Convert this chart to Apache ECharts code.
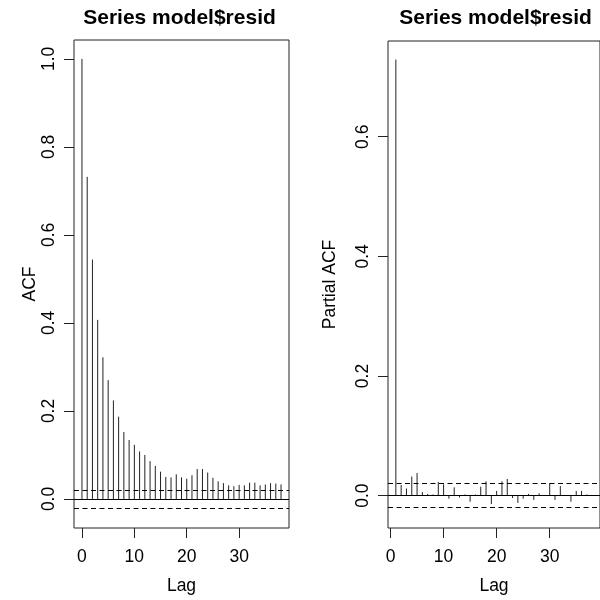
<!DOCTYPE html>
<html>
<head>
<meta charset="utf-8">
<script src="https://cdn.jsdelivr.net/npm/echarts@6/dist/echarts.min.js"></script>
<style>html,body{margin:0;padding:0;background:#fff;}#c{width:600px;height:600px;}</style>
</head>
<body>
<div id="c"></div>
<script>
const titleText = 'Series model$resid';
const acfLags = [0,1,2,3,4,5,6,7,8,9,10,11,12,13,14,15,16,17,18,19,20,21,22,23,24,25,26,27,28,29,30,31,32,33,34,35,36,37,38];
const acfValues = [1.000,0.732,0.544,0.407,0.322,0.270,0.224,0.187,0.152,0.134,0.123,0.108,0.100,0.086,0.075,0.062,0.050,0.049,0.056,0.049,0.046,0.054,0.068,0.068,0.060,0.048,0.040,0.036,0.031,0.029,0.032,0.031,0.037,0.037,0.031,0.033,0.036,0.035,0.033];
const pacfLags = [1,2,3,4,5,6,7,8,9,10,11,12,13,14,15,16,17,18,19,20,21,22,23,24,25,26,27,28,29,30,31,32,33,34,35,36,37,38];
const pacfValues = [0.729,0.018,0.012,0.032,0.038,0.006,0.003,0.002,0.023,0.019,-0.005,0.014,-0.003,0.002,-0.010,0.002,0.015,0.024,-0.014,0.008,0.024,0.028,-0.004,-0.012,-0.005,0.003,-0.007,0.004,0.000,0.021,-0.007,0.016,0.001,-0.010,0.008,0.008,0.002,0.000];
const confLimit = 0.022;
const xTicks = [0,10,20,30];
const acfYTicks = [0,0.2,0.4,0.6,0.8,1.0];
const pacfYTicks = [0,0.2,0.4,0.6];

const FONT = '"Liberation Sans", Arial, Helvetica, sans-serif';
const FS = 17.5;

function zip(a,b){return a.map((v,i)=>[v,b[i]]);}

function renderStem(params, api){
  const x = api.value(0), y = api.value(1);
  const p0 = api.coord([x,0]);
  const p1 = api.coord([x,y]);
  return {type:'line', shape:{x1:p0[0],y1:p0[1],x2:p1[0],y2:p1[1]},
          style:{stroke:'#222', lineWidth:1}};
}

function refLines(){
  return {
    silent:true, symbol:'none', label:{show:false},
    data:[
      {yAxis:0, lineStyle:{color:'#000', type:'solid', width:1}},
      {yAxis:confLimit, lineStyle:{color:'#000', type:[5,3.5], width:1}},
      {yAxis:-confLimit, lineStyle:{color:'#000', type:[5,3.5], width:1}}
    ]
  };
}

function xAxisCfg(idx, min, max){
  return {
    type:'value', gridIndex:idx, min:min, max:max,
    name:'Lag', nameLocation:'middle', nameGap:49,
    nameTextStyle:{fontFamily:FONT, fontSize:FS, color:'#000'},
    axisLine:{show:false, onZero:false},
    splitLine:{show:false},
    axisTick:{show:true, inside:false, length:10, customValues:xTicks, lineStyle:{color:'#222'}},
    axisLabel:{show:true, margin:20, customValues:xTicks, fontFamily:FONT, fontSize:FS, color:'#000',
               formatter:v=>String(v)}
  };
}
function yAxisCfg(idx, min, max, ticks, name, gap){
  return {
    type:'value', gridIndex:idx, min:min, max:max,
    name:name, nameLocation:'middle', nameGap:gap, nameRotate:90,
    nameTextStyle:{fontFamily:FONT, fontSize:FS, color:'#000'},
    axisLine:{show:false, onZero:false},
    splitLine:{show:false},
    axisTick:{show:true, inside:false, length:10, customValues:ticks, lineStyle:{color:'#222'}},
    axisLabel:{show:true, rotate:90, margin:15.5, customValues:ticks, fontFamily:FONT, fontSize:FS, color:'#000',
               formatter:v=>v.toFixed(1)}
  };
}

const chart = echarts.init(document.getElementById('c'), null, {renderer:'canvas'});
chart.setOption({
  backgroundColor:'#fff',
  animation:false,
  title:[
    {text:titleText, left:174.5, textAlign:'center', top:3,
     textStyle:{fontFamily:FONT, fontSize:21, fontWeight:'bold', color:'#000'}},
    {text:titleText, left:490.5, textAlign:'center', top:3,
     textStyle:{fontFamily:FONT, fontSize:21, fontWeight:'bold', color:'#000'}}
  ],
  grid:[
    {left:74, top:40, width:215, height:495, show:true, borderColor:'#222', borderWidth:1, backgroundColor:'transparent'},
    {left:388, top:41, width:215, height:495, show:true, borderColor:'#222', borderWidth:1, backgroundColor:'transparent'}
  ],
  xAxis:[ xAxisCfg(0,-1.52,39.52), xAxisCfg(1,-0.48,39.48) ],
  yAxis:[ yAxisCfg(0,-0.066,1.043,acfYTicks,'ACF',29.5), yAxisCfg(1,-0.054,0.760,pacfYTicks,'Partial ACF',49) ],
  series:[
    {type:'custom', xAxisIndex:0, yAxisIndex:0, data:zip(acfLags,acfValues), renderItem:renderStem, markLine:refLines(), clip:true},
    {type:'custom', xAxisIndex:1, yAxisIndex:1, data:zip(pacfLags,pacfValues), renderItem:renderStem, markLine:refLines(), clip:true}
  ]
});
</script>
</body>
</html>
